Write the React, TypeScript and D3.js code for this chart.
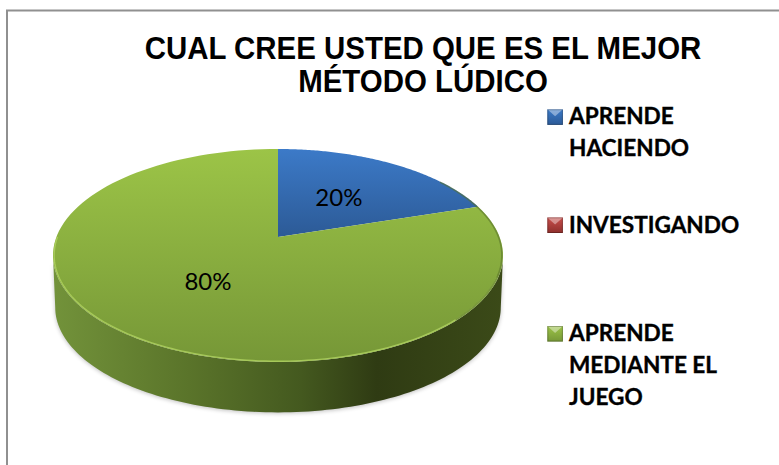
import React from "react";
import * as d3 from "d3";

const categories = ["APRENDE HACIENDO", "INVESTIGANDO", "APRENDE MEDIANTE EL JUEGO"];
const shares = [20, 0, 80];
const legendLines = [["APRENDE", "HACIENDO"], ["INVESTIGANDO"], ["APRENDE", "MEDIANTE EL", "JUEGO"]];
const titleLines = ["CUAL CREE USTED QUE ES EL MEJOR", "MÉTODO LÚDICO"];
const topFrom = ["#3c7ac8", "#c94f4c", "#9cc447"];
const topTo = ["#2c5a96", "#8e2f2c", "#769737"];

const apex = { x: 278, y: 237 };
const persp = -0.1736;
const scaleX = 221.6;
const scaleY = 103.3;

function project(theta: number, r = 1): [number, number] {
  const u = r * Math.sin(theta);
  const v = -r * Math.cos(theta);
  const w = 1 + persp * v;
  return [apex.x + (scaleX * u) / w, apex.y + (scaleY * v) / w];
}

function range(a: number, b: number, n = 120) {
  return d3.range(n + 1).map((i) => a + ((b - a) * i) / n);
}

const line = d3.line();

export default function App() {
  const arcs = d3.pie<number>().sort(null).startAngle(0).endAngle(2 * Math.PI)(shares);
  const cy = 255.5;
  const wallBottom = (t: number): [number, number] => {
    const [x, y] = project(t);
    return [apex.x + (x - apex.x) * 0.99, cy + (y - cy) * 0.985 + 52];
  };
  const a0 = Math.acos(persp);
  const a1 = 2 * Math.PI - a0;
  const wallPts: [number, number][] = [
    ...range(a0, a1).map((t) => project(t)),
    ...range(a1, a0).map(wallBottom),
  ];
  const wall = line(wallPts) + "Z";
  const rim = line(range(Math.PI * 0.62, Math.PI * 1.5).map((t) => project(t, 0.995)));
  const rimDark = line(range(Math.PI * 0.3, Math.PI * 0.75).map((t) => project(t, 0.995)));
  const legendBase = [123.5, 232.8, 340.5];
  const markerTop = [109.3, 217.4, 326];
  const m = 15.6;
  return (
    <svg
      width={779}
      height={465}
      style={{ position: "absolute", left: 0, top: 0, background: "#fff" }}
    >
      <defs>
        {arcs.map((a, i) => (
          <linearGradient key={i} id={`top${i}`} gradientUnits="userSpaceOnUse" x1="0" x2="0" y1="149" y2={i === 0 ? 237 : 362}>
            <stop offset="0" stopColor={topFrom[i]} />
            <stop offset="1" stopColor={topTo[i]} />
          </linearGradient>
        ))}
        <linearGradient id="wall" gradientUnits="userSpaceOnUse" x1="55" x2="502" y1="0" y2="0">
          <stop offset="0" stopColor="#72923a" />
          <stop offset="0.3" stopColor="#5a742a" />
          <stop offset="0.55" stopColor="#44591f" />
          <stop offset="0.72" stopColor="#2f3b13" />
          <stop offset="1" stopColor="#3b4a18" />
        </linearGradient>
        <filter id="soft" x="-5%" y="-5%" width="110%" height="115%">
          <feGaussianBlur stdDeviation="2" />
        </filter>
        <filter id="bevel" x="-5%" y="-5%" width="110%" height="110%">
          <feGaussianBlur stdDeviation="0.7" />
        </filter>
        {topFrom.map((c, i) => (
          <linearGradient key={i} id={`leg${i}`} x1="0" x2="0" y1="0" y2="1">
            <stop offset="0" stopColor={topFrom[i]} />
            <stop offset="1" stopColor={topTo[i]} />
          </linearGradient>
        ))}
      </defs>

      <path d="M7 465V10.5H779" fill="none" stroke="#909090" strokeWidth={2} />

      <g
        fontFamily="'Liberation Sans', Arial, sans-serif"
        fontWeight={700}
        fontSize={30.5}
        textAnchor="middle"
        fill="#000"
        transform="translate(423,0) scale(0.965,1)"
      >
        {titleLines.map((t, i) => (
          <text key={t} x={0} y={59.5 + i * 32.2}>{t}</text>
        ))}
      </g>

      <path d={wall} fill="#000" opacity={0.25} filter="url(#soft)" transform="translate(0,1)" />
      <path d={wall} fill="url(#wall)" />

      {arcs.map((a, i) =>
        a.endAngle > a.startAngle ? (
          <path
            key={i}
            d={line([[apex.x, apex.y], ...range(a.startAngle, a.endAngle).map((t) => project(t))]) + "Z"}
            fill={`url(#top${i})`}
          />
        ) : null
      )}
      <path d={rim ?? ""} fill="none" stroke="#aed15e" strokeWidth={1.4} opacity={0.85} filter="url(#bevel)" />
      <path d={rimDark ?? ""} fill="none" stroke="#56702a" strokeWidth={1.6} opacity={0.55} filter="url(#bevel)" />

      <g fontFamily="Lato, sans-serif" fontSize={24} textAnchor="middle" fill="#000">
        {arcs.map((a, i) => {
          if (a.value === 0) return null;
          const [x, y] = project((a.startAngle + a.endAngle) / 2, 0.5);
          return <text key={i} x={x} y={y} dy="0.35em">{`${a.value}%`}</text>;
        })}
      </g>

      {categories.map((c, i) => (
        <g key={c}>
          <rect x={547.3} y={markerTop[i]} width={m} height={m} fill={`url(#leg${i})`} />
          <path d={`M547.3 ${markerTop[i]}h${m}l-${m / 2} ${m * 0.45}Z`} fill="#fff" opacity={0.4} />
          <rect x={547.8} y={markerTop[i] + 0.5} width={m - 1} height={m - 1} fill="none" stroke="#000" strokeOpacity={0.25} />
          <g fontFamily="Lato, sans-serif" fontWeight={700} fontSize={22.6} fill="#000" stroke="#000" strokeWidth={0.35}>
            {legendLines[i].map((l, j) => (
              <text key={l} x={569} y={legendBase[i] + j * 32.3}>{l}</text>
            ))}
          </g>
        </g>
      ))}
    </svg>
  );
}
